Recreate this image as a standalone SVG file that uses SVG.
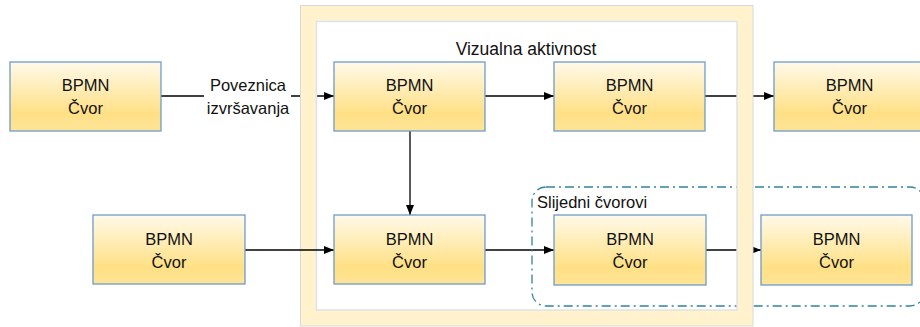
<svg xmlns="http://www.w3.org/2000/svg" width="920" height="327" viewBox="0 0 920 327">
<defs>
<linearGradient id="g" x1="0" y1="0" x2="0" y2="1">
<stop offset="0" stop-color="#FFFAEA"/>
<stop offset="0.75" stop-color="#FFE085"/>
<stop offset="1" stop-color="#FFE498"/>
</linearGradient>
<marker id="ah" markerWidth="10" markerHeight="8" refX="10" refY="4" orient="auto" markerUnits="userSpaceOnUse">
<path d="M0,0 L10,4 L0,8 Z" fill="#000"/>
</marker>
</defs>
<style>
.n rect{fill:url(#g);stroke:#6F9BCB;stroke-width:1.3}
.n text,.lbl{font-family:"Liberation Sans",Arial,sans-serif;font-size:16.5px;fill:#111;text-anchor:middle}
.c{stroke:#000;stroke-width:1.3;fill:none}
.a{marker-end:url(#ah)}
</style>
<rect width="920" height="327" fill="#fff"/>
<g id="connectors">
<path class="c" d="M161,96 H204"/>
<path class="c a" d="M291,96 H334"/>
<path class="c a" d="M485,96 H554"/>
<path class="c a" d="M705,96 H774"/>
<path class="c a" d="M410,131 V215"/>
<path class="c a" d="M485,250 H554"/>
<path class="c a" d="M706,250 H761"/>
</g>
<g id="slijedni">
<rect x="532" y="187" width="392" height="119" rx="14" fill="none" stroke="#31849B" stroke-width="1.3" stroke-dasharray="9 4 2 4"/>
<text class="lbl" x="537" y="208" style="text-anchor:start">Slijedni čvorovi</text>
</g>
<g id="vizualna">
<rect x="308.5" y="13.5" width="436.5" height="304.5" fill="none" stroke="#FFF2CC" stroke-width="16"/>
<rect x="300.5" y="5.5" width="452.5" height="320.5" fill="none" stroke="#D9D9D9" stroke-width="1"/>
<rect x="316.5" y="21.5" width="420.5" height="288.5" fill="none" stroke="#DCE3EC" stroke-width="1.5"/>
<text class="lbl" x="526" y="55" style="font-size:17.5px">Vizualna aktivnost</text>
</g>
<g id="connectors-front">
<path class="c a" d="M245,250 H334"/>
</g>
<g id="label-poveznica">
<text class="lbl" x="248" y="91">Poveznica</text>
<text class="lbl" x="248" y="114">izvršavanja</text>
</g>
<g id="n1" class="n"><rect x="10" y="62" width="151" height="69"/><text x="85.5" y="91">BPMN</text><text x="85.5" y="114">Čvor</text></g>
<g id="n2" class="n"><rect x="334" y="62" width="151" height="69"/><text x="409.5" y="91">BPMN</text><text x="409.5" y="114">Čvor</text></g>
<g id="n3" class="n"><rect x="554" y="62" width="151" height="69"/><text x="629.5" y="91">BPMN</text><text x="629.5" y="114">Čvor</text></g>
<g id="n4" class="n"><rect x="774" y="62" width="151" height="69"/><text x="849.5" y="91">BPMN</text><text x="849.5" y="114">Čvor</text></g>
<g id="n5" class="n"><rect x="93" y="215" width="152" height="69"/><text x="169" y="245">BPMN</text><text x="169" y="268">Čvor</text></g>
<g id="n6" class="n"><rect x="334" y="215" width="151" height="69"/><text x="409.5" y="245">BPMN</text><text x="409.5" y="268">Čvor</text></g>
<g id="n7" class="n"><rect x="554" y="215" width="152" height="70"/><text x="630" y="245">BPMN</text><text x="630" y="268">Čvor</text></g>
<g id="n8" class="n"><rect x="761" y="215" width="151" height="70"/><text x="836.5" y="245">BPMN</text><text x="836.5" y="268">Čvor</text></g>
</svg>
